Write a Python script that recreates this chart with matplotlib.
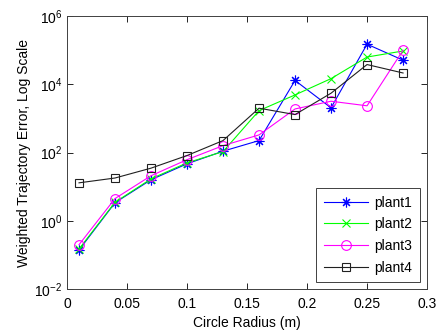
import numpy as np
import matplotlib.pyplot as plt

plt.rcParams['font.family'] = ['Liberation Sans', 'DejaVu Sans']

# data
radius = [0.01, 0.04, 0.07, 0.10, 0.13, 0.16, 0.19, 0.22, 0.25, 0.28]
plant1 = [0.14, 3.4, 16, 47, 110, 225, 13000, 2050, 150000, 51000]
plant2 = [0.15, 3.5, 17, 50, 107, 1700, 4900, 14700, 63000, 95000]
plant3 = [0.2, 4.5, 21, 62, 160, 330, 1900, 3200, 2350, 100000]
plant4 = [13, 18, 35, 82, 225, 2000, 1300, 5500, 38000, 21500]
names = ['plant1', 'plant2', 'plant3', 'plant4']

fig = plt.figure(figsize=(4.38, 3.35), dpi=100)
ax = fig.add_axes([0.153, 0.137, 0.822, 0.815])

lw = 0.8
ax.plot(radius, plant1, '-', color='#0000ff', marker=(8, 2, 0), ms=7, mew=0.8, lw=lw, label=names[0])
ax.plot(radius, plant2, '-', color='#00ff00', marker='x', ms=6, mew=0.8, lw=lw, label=names[1])
ax.plot(radius, plant3, '-', color='#ff00ff', marker='o', ms=7, mfc='none', mew=0.8, lw=lw, label=names[2])
ax.plot(radius, plant4, '-', color='#202020', marker='s', ms=6, mfc='none', mew=0.8, lw=lw, label=names[3])

ax.set_yscale('log')
ax.set_xlim(0, 0.3)
ax.set_ylim(1e-2, 1e6)
ax.set_yticks([1e-2, 1e0, 1e2, 1e4, 1e6])
ax.yaxis.set_minor_locator(plt.NullLocator())
ax.set_xticks(np.arange(0, 0.31, 0.05))
ax.set_xticklabels(['0', '0.05', '0.1', '0.15', '0.2', '0.25', '0.3'])

ax.tick_params(direction='in', top=True, right=True, labelsize=10, length=4, width=0.6)
ax.tick_params(axis='x', pad=6)
for s in ax.spines.values():
    s.set_linewidth(0.7)
    s.set_color('#404040')

ax.set_xlabel('Circle Radius (m)', fontsize=10, labelpad=3)
ax.set_ylabel('Weighted Trajectory Error, Log Scale', fontsize=10, labelpad=2)

leg = ax.legend(loc='lower right', fontsize=10, fancybox=False, edgecolor='#404040',
                handlelength=3.2, borderaxespad=0.5, labelspacing=0.55, handletextpad=0.45,
                borderpad=0.55, framealpha=1)
leg.get_frame().set_linewidth(0.7)

fig.savefig('out.png', dpi=100)
